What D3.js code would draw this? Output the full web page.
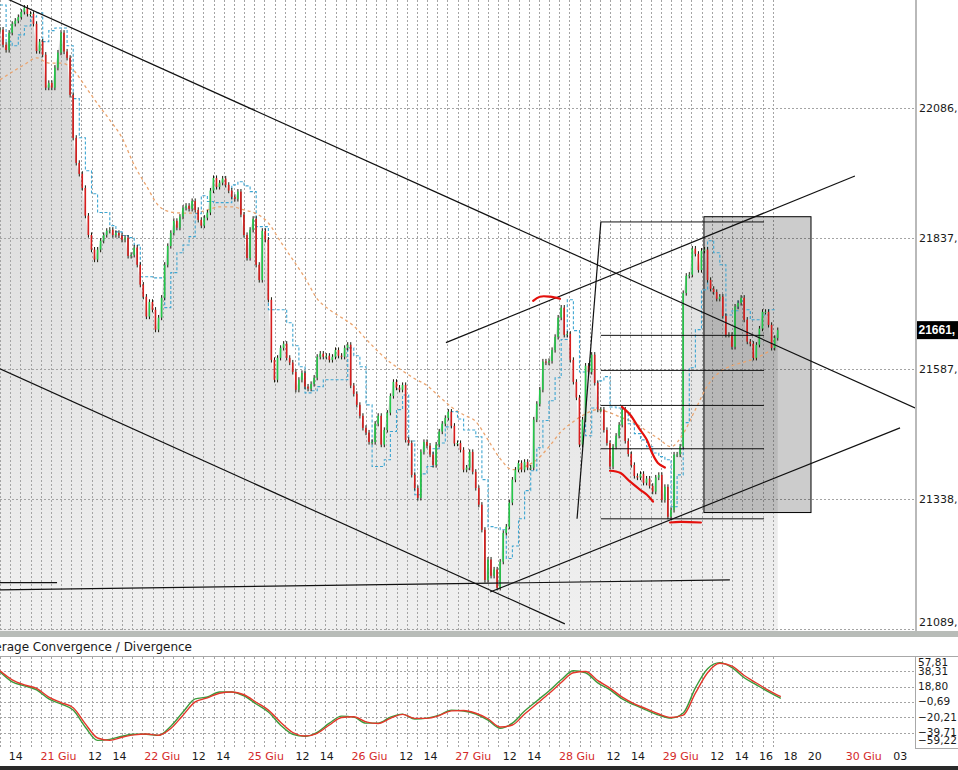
<!DOCTYPE html>
<html>
<head>
<meta charset="utf-8">
<script src="https://cdn.jsdelivr.net/npm/d3@7"></script>
<style>
  body { margin: 0; background: #fff; overflow: hidden; }
  svg { display: block; font-family: "DejaVu Sans", Tahoma, sans-serif; }
</style>
</head>
<body>
<svg id="chart" width="958" height="770"></svg>
<script>
// 15-minute closes, 20 Giu 13:15 -> 29 Giu 17:00
var closes = [
  22236,22207,22197,22230,22247,22253,22260,22270,22278,22266,
  22266,22247,22195,22213,22188,22125,22134,22125,22163,22192,
  22230,22194,22182,22111,22029,21981,21960,21933,21880,21843,
  21815,21796,21815,21832,21843,21851,21853,21843,21847,21842,
  21834,21838,21803,21805,21819,21786,21748,21725,21687,21715,
  21700,21662,21685,21723,21786,21822,21847,21870,21857,21878,
  21895,21899,21893,21908,21891,21872,21861,21876,21886,21928,
  21952,21935,21943,21951,21939,21928,21916,21912,21926,21882,
  21843,21799,21853,21874,21786,21757,21851,21834,21719,21604,
  21566,21608,21627,21635,21608,21599,21581,21547,21566,21579,
  21553,21549,21558,21570,21610,21616,21610,21612,21604,21610,
  21623,21612,21610,21627,21633,21555,21539,21518,21497,21474,
  21465,21447,21447,21482,21497,21442,21470,21503,21535,21562,
  21551,21547,21556,21451,21445,21384,21359,21340,21428,21447,
  21440,21423,21403,21442,21467,21482,21493,21505,21478,21444,
  21445,21432,21394,21398,21428,21390,21359,21327,21279,21183,
  21222,21191,21203,21168,21218,21273,21285,21331,21375,21394,
  21407,21394,21409,21398,21398,21490,21520,21547,21601,21599,
  21602,21623,21648,21685,21704,21652,21654,21604,21562,21532,
  21442,21490,21593,21581,21614,21560,21509,21509,21470,21445,
  21400,21438,21459,21480,21509,21449,21424,21403,21382,21379,
  21386,21369,21377,21363,21352,21379,21384,21336,21361,21304,
  21317,21423,21423,21438,21732,21765,21767,21817,21807,21776,
  21813,21815,21757,21740,21734,21721,21725,21688,21652,21652,
  21629,21706,21713,21723,21681,21639,21635,21608,21633,21664,
  21696,21696,21671,21627,21646,21661
];

// blue dashed stop line, one value every 2 bars
var blueLine = [
  22283,22213,22205,22226,22243,22260,22268,22213,22234,22239,
  22239,22205,22104,22029,21966,21922,21886,21886,21861,21849,
  21842,21838,21824,21763,21763,21761,21761,21704,21771,21809,
  21824,21840,21884,21918,21907,21905,21905,21905,21939,21945,
  21937,21926,21859,21859,21700,21700,21700,21675,21631,21591,
  21541,21545,21553,21566,21566,21566,21566,21627,21612,21591,
  21518,21400,21400,21413,21467,21509,21537,21449,21346,21386,
  21400,21434,21445,21476,21505,21491,21470,21470,21457,21375,
  21285,21283,21279,21224,21248,21300,21354,21392,21436,21488,
  21526,21570,21643,21719,21660,21581,21459,21512,21564,21572,
  21514,21512,21505,21482,21463,21451,21438,21426,21419,21413,
  21323,21384,21484,21589,21662,21738,21832,21809,21786,21690,
  21698,21717,21700,21681,21681,21690,21700,21700
];

// orange dashed slow average, one value every 4 bars
var orangeLine = [
  22140,22155,22169,22182,22172,22172,22159,22127,22094,22063,
  22029,21977,21937,21899,21887,21885,21885,21891,21897,21897,
  21891,21884,21866,21830,21796,21761,21721,21700,21685,21669,
  21644,21620,21599,21583,21568,21555,21534,21514,21499,21486,
  21451,21415,21394,21400,21413,21438,21467,21486,21501,21509,
  21503,21493,21484,21468,21453,21438,21463,21509,21555,21581,
  21593,21600,21608,21620
];

// MACD and signal, one value every 4 bars
var macdLine = [
  37.8,25.0,19.8,14.7,3.2,-3.2,-11.0,-32.8,-49.5,-48.2,
  -44.3,-41.8,-41.8,-43.1,-31.5,-13.5,3.2,5.7,12.1,12.1,
  7.0,-3.2,-13.5,-30.2,-41.8,-44.3,-39.2,-27.6,-18.7,-19.9,
  -27.6,-27.6,-19.9,-16.1,-22.5,-21.2,-17.4,-11.0,-12.2,-16.1,
  -23.8,-34.1,-27.6,-12.2,0.6,13.4,27.5,39.1,36.5,23.7,
  14.7,3.2,-4.5,-11.0,-17.4,-21.2,-14.8,17.3,41.7,49.4,
  43.0,30.1,21.1,12.1,3.9
];
var signalLine = [
  39.0,27.5,21.0,16.5,5.5,-1.5,-8.0,-28.5,-46.5,-49.5,
  -45.5,-42.5,-41.5,-43.0,-34.5,-17.5,-0.5,4.5,10.5,12.0,
  8.5,-1.0,-11.0,-26.5,-39.5,-44.0,-40.5,-30.0,-20.5,-19.5,
  -26.0,-28.0,-21.5,-16.5,-21.5,-21.5,-18.0,-12.0,-11.5,-15.0,
  -22.0,-32.5,-30.0,-16.0,-3.0,10.0,24.0,36.5,38.0,26.5,
  17.0,5.5,-3.0,-9.5,-16.0,-20.5,-17.5,10.5,36.5,48.5,
  45.0,33.0,23.5,14.0,6.0
];

var priceTicks = [22086, 21837, 21587, 21338, 21089];
var macdTicks = [57.81, 38.31, 18.80, -0.69, -20.21, -39.71, -59.22];

// time axis: session hours counted from 21 Giu 09:00 (8.5 h per past session)
var tickLabels = ["14","21 Giu","12","14","22 Giu","12","14","25 Giu","12","14","26 Giu","12","14",
  "27 Giu","12","14","28 Giu","12","14","29 Giu","12","14","16","18","20","30 Giu","03"];
var tickHours = [-3.5,0,3,5,8.5,11.5,13.5,17,20,22,25.5,28.5,30.5,34,37,39,42.5,45.5,47.5,
  51,54,56,58,60,62,66,69];

// drawn objects, in [bar, price]
var trendLines = [
  [[0, 22301], [300, 21512]],
  [[0, 21587], [185.2, 21099]],
  [[0, 21164], [239.3, 21183]],
  [[0, 21178], [18.7, 21178]],
  [[160.7, 21160], [295.1, 21474]],
  [[146.2, 21637], [280.3, 21956]],
  [[189.2, 21300], [197.0, 21868]]
];
var fibHigh = 21868, fibLow = 21300, fibFrom = 197.0, fibTo = 250.5;
var fibLevels = [0, 0.382, 0.5, 0.618, 0.764, 1];
var boxBars = [230.8, 265.9], boxPrices = [21878, 21312];
var redStrokes = [
  [[174.8, 21717], [177.0, 21725], [180.3, 21725], [183.6, 21721]],
  [[203.9, 21514], [206.6, 21499], [209.2, 21476], [212.1, 21451], [213.8, 21426], [215.7, 21407], [218.0, 21398]],
  [[200.0, 21392], [203.3, 21388], [206.6, 21371], [209.8, 21356], [212.1, 21346], [214.1, 21333]],
  [[219.7, 21293], [223.0, 21294], [229.8, 21293]]
];

var svg = d3.select("#chart");
var plotRight = 915;

var xScale = d3.scaleLinear().domain([0, 100]).range([0, 305]);
var yScale = d3.scaleLinear().domain([21089, 22086]).range([629.1, 108]);
var mScale = d3.scaleLinear().domain([-59.22, 57.81]).range([748, 656]);

var defs = svg.append("defs");
defs.append("clipPath").attr("id", "clipMain")
  .append("rect").attr("x", 0).attr("y", 0).attr("width", plotRight).attr("height", 631);
defs.append("clipPath").attr("id", "clipMacd")
  .append("rect").attr("x", 0).attr("y", 656).attr("width", plotRight).attr("height", 92);
var grad = defs.append("linearGradient").attr("id", "areaFill")
  .attr("gradientUnits", "userSpaceOnUse").attr("x1", 0).attr("y1", 0).attr("x2", 0).attr("y2", 630);
grad.append("stop").attr("offset", 0).attr("stop-color", "#d6d6d6");
grad.append("stop").attr("offset", 1).attr("stop-color", "#f0f0f0");

var main = svg.append("g").attr("clip-path", "url(#clipMain)");

// area under the price
main.append("path")
  .datum(closes)
  .attr("fill", "url(#areaFill)")
  .attr("d", d3.area().x((d, i) => xScale(i)).y0(631).y1(d => yScale(d)));

// grid
var gridBars = d3.range(0, closes.length, 10 / 3);
main.selectAll(".vgrid").data(gridBars).enter().append("line")
  .attr("x1", d => Math.round(xScale(d)) + 0.5).attr("x2", d => Math.round(xScale(d)) + 0.5)
  .attr("y1", 0).attr("y2", 631)
  .attr("stroke", "#a4a4a4").attr("stroke-dasharray", "2,2");
main.selectAll(".hgrid").data(priceTicks).enter().append("line")
  .attr("x1", 0).attr("x2", plotRight)
  .attr("y1", d => Math.round(yScale(d)) + 0.5).attr("y2", d => Math.round(yScale(d)) + 0.5)
  .attr("stroke", "#a4a4a4").attr("stroke-dasharray", "2,2");

// retracement box
main.append("rect")
  .attr("x", xScale(boxBars[0])).attr("y", yScale(boxPrices[0]))
  .attr("width", xScale(boxBars[1]) - xScale(boxBars[0]))
  .attr("height", yScale(boxPrices[1]) - yScale(boxPrices[0]))
  .attr("fill", "rgba(0,0,0,0.2)").attr("stroke", "#000").attr("stroke-width", 1);

// orange and blue dashed lines
main.append("path").datum(orangeLine)
  .attr("fill", "none").attr("stroke", "#eba56f").attr("stroke-width", 1.3)
  .attr("stroke-dasharray", "3,3")
  .attr("d", d3.line().x((d, i) => xScale(i * 4)).y(d => yScale(d)).curve(d3.curveMonotoneX));
main.append("path").datum(blueLine)
  .attr("fill", "none").attr("stroke", "#3ea6d2").attr("stroke-width", 1.1)
  .attr("stroke-dasharray", "3,2")
  .attr("d", d3.line().x((d, i) => xScale(i * 2)).y(d => yScale(d)).curve(d3.curveStepAfter));

// candles
var wick = 5;
var bars = closes.map((c, i) => ({ i: i, o: i ? closes[i - 1] : c, c: c }));
var candle = main.append("g").selectAll("g").data(bars).enter().append("g");
candle.append("line")
  .attr("x1", d => xScale(d.i)).attr("x2", d => xScale(d.i))
  .attr("y1", d => yScale(Math.max(d.o, d.c) + wick))
  .attr("y2", d => yScale(Math.min(d.o, d.c) - wick))
  .attr("stroke", "#1a1a0a").attr("stroke-width", 1);
candle.append("rect")
  .attr("x", d => xScale(d.i) - 0.9).attr("width", 1.6)
  .attr("y", d => yScale(Math.max(d.o, d.c)))
  .attr("height", d => Math.max(1, yScale(Math.min(d.o, d.c)) - yScale(Math.max(d.o, d.c))))
  .attr("fill", d => d.c >= d.o ? "#25c84a" : "#d81e1e");

// trend lines
var ptLine = d3.line().x(d => xScale(d[0])).y(d => yScale(d[1]));
main.selectAll(".trend").data(trendLines).enter().append("path")
  .attr("d", ptLine).attr("fill", "none").attr("stroke", "#111").attr("stroke-width", 1.2);

// fibonacci retracement
main.selectAll(".fib").data(fibLevels).enter().append("line")
  .attr("x1", xScale(fibFrom)).attr("x2", xScale(fibTo))
  .attr("y1", d => yScale(fibHigh - d * (fibHigh - fibLow)))
  .attr("y2", d => yScale(fibHigh - d * (fibHigh - fibLow)))
  .attr("stroke", "#111").attr("stroke-width", 1);

// hand-drawn red strokes
main.selectAll(".red").data(redStrokes).enter().append("path")
  .attr("d", ptLine.curve(d3.curveCatmullRom)).attr("fill", "none")
  .attr("stroke", "#e4100c").attr("stroke-width", 2.2).attr("stroke-linecap", "round");

// frame pieces
svg.append("rect").attr("x", 915).attr("y", 0).attr("width", 2).attr("height", 631).attr("fill", "#b9b9b9");
svg.append("rect").attr("x", 0).attr("y", 631).attr("width", 958).attr("height", 6).attr("fill", "#b8bcb8");

// price axis
var pAxis = svg.append("g").attr("transform", "translate(917,0)")
  .call(d3.axisRight(yScale).tickValues(priceTicks).tickSize(0).tickPadding(2).tickFormat(d => d + ","));
pAxis.select(".domain").remove();
pAxis.attr("font-family", null).attr("font-size", 11).attr("color", "#1a1a1a");
pAxis.selectAll(".tick").filter(d => yScale(d) > 622)
  .attr("transform", "translate(0,622)");

var last = closes[closes.length - 1];
svg.append("rect").attr("x", 917).attr("y", yScale(last) - 9).attr("width", 41).attr("height", 18).attr("fill", "#000");
svg.append("text").attr("x", 918.5).attr("y", yScale(last)).attr("dy", "0.36em")
  .attr("font-family", "'Liberation Sans', Arial, sans-serif")
  .attr("font-size", 12).attr("font-weight", "bold").attr("fill", "#fff").text(last + ",");

// MACD panel
svg.append("text").attr("x", 192).attr("y", 651).attr("text-anchor", "end")
  .attr("font-size", 12).attr("fill", "#1a1a1a").text("Moving Average Convergence / Divergence");
svg.append("line").attr("x1", 0).attr("x2", 958).attr("y1", 656.5).attr("y2", 656.5).attr("stroke", "#a8a8a8");
svg.append("line").attr("x1", 915.5).attr("x2", 915.5).attr("y1", 656).attr("y2", 748).attr("stroke", "#a8a8a8");
svg.append("line").attr("x1", 915).attr("x2", 958).attr("y1", 748.5).attr("y2", 748.5).attr("stroke", "#a8a8a8");

var macd = svg.append("g").attr("clip-path", "url(#clipMacd)");
macd.selectAll(".vgrid").data(gridBars).enter().append("line")
  .attr("x1", d => Math.round(xScale(d)) + 0.5).attr("x2", d => Math.round(xScale(d)) + 0.5)
  .attr("y1", 657).attr("y2", 748)
  .attr("stroke", "#a4a4a4").attr("stroke-dasharray", "2,2");
macd.selectAll(".hgrid").data(macdTicks.slice(1, -1)).enter().append("line")
  .attr("x1", 0).attr("x2", plotRight)
  .attr("y1", d => Math.round(mScale(d)) + 0.5).attr("y2", d => Math.round(mScale(d)) + 0.5)
  .attr("stroke", "#a4a4a4").attr("stroke-dasharray", "2,2");
var mLine = d3.line().x((d, i) => xScale(i * 4)).y(d => mScale(d)).curve(d3.curveMonotoneX);
macd.append("path").datum(macdLine).attr("d", mLine)
  .attr("fill", "none").attr("stroke", "#3c9a3c").attr("stroke-width", 1.4);
macd.append("path").datum(signalLine).attr("d", mLine)
  .attr("fill", "none").attr("stroke", "#e4372b").attr("stroke-width", 1.4);

var mAxis = svg.append("g").attr("transform", "translate(917,0)")
  .call(d3.axisRight(mScale).tickValues(macdTicks).tickSize(0).tickPadding(1)
    .tickFormat(d => d3.format(".2f")(d).replace(".", ",")));
mAxis.select(".domain").remove();
mAxis.attr("font-family", null).attr("font-size", 10.5).attr("color", "#1a1a1a");
mAxis.selectAll(".tick").attr("transform", d => "translate(0," + Math.min(741, Math.max(663, mScale(d))) + ")");

// time axis
var tAxis = svg.append("g").attr("transform", "translate(0,750)")
  .call(d3.axisBottom(xScale).tickValues(tickHours.map(h => 19 + 4 * h)).tickSize(0).tickPadding(2)
    .tickFormat((d, i) => tickLabels[i]));
tAxis.select(".domain").remove();
tAxis.attr("font-family", null).attr("font-size", 11);
tAxis.selectAll("text").attr("fill", (d, i) => tickLabels[i].indexOf("Giu") > 0 ? "#d42a2a" : "#1a1a1a");

svg.append("rect").attr("x", 0).attr("y", 766).attr("width", 958).attr("height", 4).attr("fill", "#2a2a2a");
</script>
</body>
</html>
